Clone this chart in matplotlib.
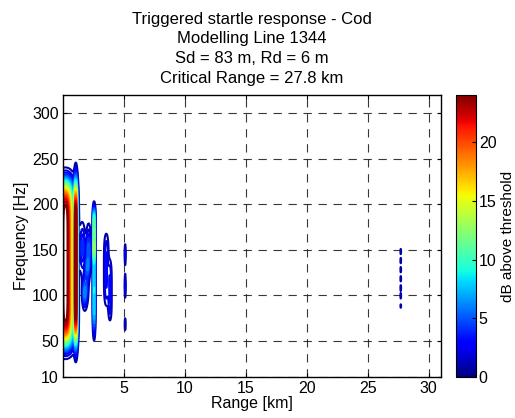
import numpy as np
import matplotlib
matplotlib.use("Agg")
import matplotlib.pyplot as plt

plt.rcParams['font.family'] = ['Liberation Sans', 'DejaVu Sans']

# Blob description of the exceedance field
# (range km, freq Hz, range width km, freq width Hz, peak dB, freq exponent)
blob_range = [0.2, 1.05, 1.6, 1.85, 2.1, 1.75, 2.0, 2.55, 2.55, 3.55, 3.85,
              5.1, 5.1, 5.1,
              27.7, 27.7, 27.7, 27.7, 27.7, 27.7, 27.7]
blob_freq = [135, 136, 152, 108, 150, 100, 130, 168, 105, 128, 105,
             145, 110, 68,
             148, 138, 128, 118, 108, 99, 88]
blob_wr = [0.61, 0.12, 0.2, 0.2, 0.18, 0.14, 0.14, 0.09, 0.09, 0.18, 0.14,
           0.05, 0.05, 0.05,
           0.04, 0.04, 0.04, 0.04, 0.04, 0.04, 0.04]
blob_wf = [90, 88, 22, 18, 22, 12, 12, 28, 45, 38, 32,
           12, 14, 8,
           4, 4, 4, 4, 4, 4, 3]
blob_peak = [26.0, 24.0, 4.5, 4.5, 5.5, 3.5, 4.0, 12.0, 9.0, 3.2, 3.0,
             2.3, 2.3, 1.9,
             1.6, 1.6, 1.6, 1.6, 1.6, 1.6, 1.5]
blob_pow = [7.5, 5.3, 2, 2, 2, 2, 2, 4, 4, 4, 4,
            2, 2, 2,
            2, 2, 2, 2, 2, 2, 2]

x_ticks = [5, 10, 15, 20, 25, 30]
y_ticks = [10, 50, 100, 150, 200, 250, 300]
cbar_ticks = [0, 5, 10, 15, 20]
title_lines = ["Triggered startle response - Cod", "Modelling Line 1344",
               "Sd = 83 m, Rd = 6 m", "Critical Range = 27.8 km"]

r = np.linspace(0, 31, 3101)
f = np.linspace(10, 320, 621)
R, F = np.meshgrid(r, f)
Z = np.zeros_like(R)
for rc, fc, wr, wf, pk, p in zip(blob_range, blob_freq, blob_wr, blob_wf, blob_peak, blob_pow):
    Z += pk * np.exp(-((R - rc) / wr) ** 2) * np.exp(-np.abs((F - fc) / wf) ** p)

FS = 11.5
fig = plt.figure(figsize=(5.15, 4.18), dpi=100)
ax = fig.add_axes([63 / 515, 1 - 377 / 418, 378 / 515, 282 / 418])
levels = np.arange(1, 24.5, 1)
ax.contour(R, F, Z, levels=levels, cmap='jet', vmin=0, vmax=24, linewidths=1.5)
ax.set_xlim(0, 31)
ax.set_ylim(10, 320)
ax.set_xticks(x_ticks)
ax.set_yticks(y_ticks)
ax.tick_params(direction='in', labelsize=FS, length=3, top=True, right=True, pad=3)
ax.grid(True, color='#222222', linestyle=(0, (7.5, 6)), linewidth=0.8, alpha=0.9)
ax.set_xlabel("Range [km]", fontsize=FS, labelpad=0)
ax.set_ylabel("Frequency [Hz]", fontsize=FS, labelpad=2)
ax.set_title("\n".join(title_lines), fontsize=12, linespacing=1.38, pad=9)
for s in ax.spines.values():
    s.set_linewidth(1.0)

cax = fig.add_axes([456 / 515, 1 - 377 / 418, 20 / 515, 282 / 418])
sm = matplotlib.cm.ScalarMappable(norm=matplotlib.colors.Normalize(0, 24), cmap='jet')
cb = fig.colorbar(sm, cax=cax, ticks=cbar_ticks)
cb.ax.tick_params(direction='in', labelsize=FS, length=3, pad=2)
cb.set_label("dB above threshold", fontsize=11, labelpad=3)
fig.savefig("out.png", dpi=100)
